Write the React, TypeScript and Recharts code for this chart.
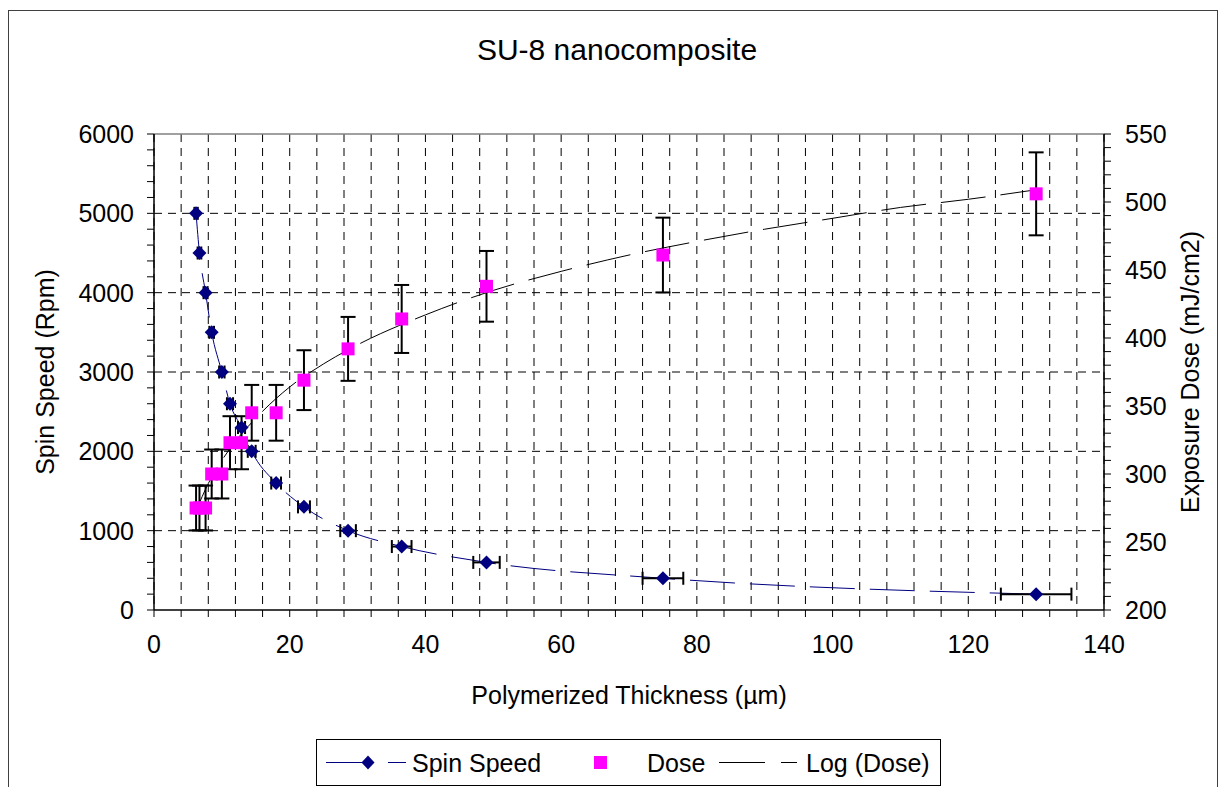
import React from 'react';
import {
  ComposedChart,
  Scatter,
  Line,
  XAxis,
  YAxis,
  CartesianGrid,
  ReferenceLine,
  ErrorBar,
  Legend,
} from 'recharts';

// ---- data ----
const thickness = [6.2, 6.7, 7.6, 8.5, 10, 11.2, 12.9, 14.4, 18, 22.1, 28.6, 36.5, 49, 75, 130];
const spinSpeed = [5000, 4500, 4000, 3500, 3000, 2600, 2300, 2000, 1600, 1300, 1000, 800, 600, 400, 200];
const thicknessErr = [0.25, 0.27, 0.3, 0.34, 0.4, 0.45, 0.52, 0.58, 0.72, 0.88, 1.15, 1.45, 1.95, 3.0, 5.2];
const dose = [275, 275, 275, 300, 300, 323, 323, 345, 345, 369, 392, 414, 438, 461, 506];
const doseErr = [16.5, 16.5, 16.5, 18, 18, 19.5, 19.5, 20.5, 20.5, 22, 23.5, 25, 26, 27.5, 30.5];

const logTrendX = [6.2, 8, 10, 12, 15, 20, 25, 30, 40, 50, 60, 70, 80, 90, 100, 110, 120, 130];
const logTrendY = [273, 293, 310, 324, 341, 364, 381, 395, 417, 435, 449, 461, 471, 480, 488, 496, 502, 509];

const xTicks = [0, 4, 8, 12, 16, 20, 24, 28, 32, 36, 40, 44, 48, 52, 56, 60, 64, 68, 72, 76, 80, 84, 88, 92, 96, 100, 104, 108, 112, 116, 120, 124, 128, 132, 136, 140];
const xLabelTicks = [0, 20, 40, 60, 80, 100, 120, 140];
const leftTicks = [0, 200, 400, 600, 800, 1000, 1200, 1400, 1600, 1800, 2000, 2200, 2400, 2600, 2800, 3000, 3200, 3400, 3600, 3800, 4000, 4200, 4400, 4600, 4800, 5000, 5200, 5400, 5600, 5800, 6000];
const leftLabelTicks = [0, 1000, 2000, 3000, 4000, 5000, 6000];
const rightTicks = [200, 210, 220, 230, 240, 250, 260, 270, 280, 290, 300, 310, 320, 330, 340, 350, 360, 370, 380, 390, 400, 410, 420, 430, 440, 450, 460, 470, 480, 490, 500, 510, 520, 530, 540, 550];
const rightLabelTicks = [200, 250, 300, 350, 400, 450, 500, 550];
const hGrid = [1000, 2000, 3000, 4000, 5000];

const legendLabels = ['Spin Speed', 'Dose', 'Log (Dose)'];

const spinData = thickness.map((x, i) => ({ x, spin: spinSpeed[i], xErr: thicknessErr[i] }));
const doseData = thickness.map((x, i) => ({ x, dose: dose[i], dErr: doseErr[i] }));
const trendData = logTrendX.map((x, i) => ({ x, trend: logTrendY[i] }));

const NAVY = '#000080';
const PINK = '#FF00FF';
const FONT = '"Liberation Sans", Arial, Helvetica, sans-serif';

const Diamond = (props: any) => {
  const { cx, cy } = props;
  if (cx == null || cy == null) return null;
  return (
    <polygon
      points={`${cx},${cy - 7} ${cx + 7},${cy} ${cx},${cy + 7} ${cx - 7},${cy}`}
      fill={NAVY}
    />
  );
};

const Square = (props: any) => {
  const { cx, cy } = props;
  if (cx == null || cy == null) return null;
  return <rect x={cx - 6.5} y={cy - 6.5} width={13} height={13} fill={PINK} />;
};

const LegendContent = () => (
  <svg width={626} height={48} style={{ display: 'block' }}>
    <rect x={0.5} y={0.5} width={624} height={46} fill="#fff" stroke="#000" strokeWidth={1} />
    <line x1={10} y1={23.5} x2={48} y2={23.5} stroke={NAVY} strokeWidth={1} />
    <polygon points="52,16.5 58.5,23.5 52,30.5 45.5,23.5" fill={NAVY} />
    <line x1={72} y1={23.5} x2={90} y2={23.5} stroke={NAVY} strokeWidth={1} />
    <text x={96} y={32.5} fontSize={25} fontFamily={FONT} fill="#000">{legendLabels[0]}</text>
    <rect x={278} y={17} width={13} height={13} fill={PINK} />
    <text x={331} y={32.5} fontSize={25} fontFamily={FONT} fill="#000">{legendLabels[1]}</text>
    <line x1={403} y1={23.5} x2={449} y2={23.5} stroke="#000" strokeWidth={1} />
    <line x1={465} y1={23.5} x2={481} y2={23.5} stroke="#000" strokeWidth={1} />
    <text x={490} y={32.5} fontSize={25} fontFamily={FONT} fill="#000">{legendLabels[2]}</text>
  </svg>
);

const tickStyle = { fontSize: 25, fill: '#000', fontFamily: FONT };

export default function App() {
  return (
    <div
      style={{
        position: 'fixed',
        left: 0,
        top: 0,
        width: 1229,
        height: 787,
        overflow: 'hidden',
        background: '#fff',
        fontFamily: FONT,
      }}
    >
      <div
        style={{
          position: 'absolute',
          left: 8,
          top: 10,
          width: 1210,
          height: 800,
          border: '1px solid #404040',
          boxSizing: 'border-box',
        }}
      />
      <div
        style={{
          position: 'absolute',
          left: 0,
          top: 32,
          width: 1234,
          textAlign: 'center',
          fontSize: 30,
          lineHeight: '36px',
          color: '#000',
        }}
      >
        SU-8 nanocomposite
      </div>
      <div style={{ position: 'absolute', left: 0, top: 0 }}>
        <ComposedChart
          width={1229}
          height={787}
          margin={{ top: 134, right: 5, bottom: 77, left: 8 }}
        >
          <CartesianGrid
            horizontal={false}
            vertical={true}
            stroke="#000"
            strokeDasharray="8 6"
            xAxisId="x"
            yAxisId="left"
          />
          <XAxis
            xAxisId="x"
            dataKey="x"
            type="number"
            domain={[0, 140]}
            ticks={xTicks}
            interval={0}
            tickFormatter={(v: number) => (xLabelTicks.includes(v) ? String(v) : '')}
            tick={tickStyle}
            tickSize={7}
            tickMargin={18}
            axisLine={{ stroke: '#000', strokeWidth: 1.5 }}
            tickLine={{ stroke: '#000', strokeWidth: 1 }}
            height={100}
            allowDataOverflow
            label={{
              value: 'Polymerized Thickness (µm)',
              position: 'insideBottom',
              offset: 6,
              style: { fontSize: 25, fill: '#000', fontFamily: FONT },
            }}
          />
          <YAxis
            yAxisId="left"
            orientation="left"
            type="number"
            domain={[0, 6000]}
            ticks={leftTicks}
            interval={0}
            tickFormatter={(v: number) => (leftLabelTicks.includes(v) ? String(v) : '')}
            tick={tickStyle}
            tickSize={7}
            tickMargin={13}
            width={146}
            axisLine={{ stroke: '#000', strokeWidth: 1.5 }}
            tickLine={{ stroke: '#000', strokeWidth: 1 }}
            allowDataOverflow
            label={{
              value: 'Spin Speed (Rpm)',
              angle: -90,
              position: 'insideLeft',
              offset: 37,
              style: { fontSize: 25, fill: '#000', fontFamily: FONT, textAnchor: 'middle' },
            }}
          />
          <YAxis
            yAxisId="right"
            orientation="right"
            type="number"
            domain={[200, 550]}
            ticks={rightTicks}
            interval={0}
            tickFormatter={(v: number) => (rightLabelTicks.includes(v) ? String(v) : '')}
            tick={tickStyle}
            tickSize={7}
            tickMargin={14}
            width={120}
            axisLine={{ stroke: '#000', strokeWidth: 1.5 }}
            tickLine={{ stroke: '#000', strokeWidth: 1 }}
            allowDataOverflow
            label={{
              value: 'Exposure Dose (mJ/cm2)',
              angle: -90,
              position: 'insideRight',
              offset: 34,
              style: { fontSize: 25, fill: '#000', fontFamily: FONT, textAnchor: 'middle' },
            }}
          />
          {hGrid.map((v) => (
            <ReferenceLine
              key={v}
              xAxisId="x"
              yAxisId="left"
              y={v}
              stroke="#000"
              strokeDasharray="8 6"
              strokeWidth={1}
            />
          ))}
          <ReferenceLine xAxisId="x" yAxisId="left" y={6000} stroke="#808080" strokeWidth={1.5} />
          <Line
            xAxisId="x"
            yAxisId="left"
            data={spinData}
            dataKey="spin"
            type="monotone"
            stroke={NAVY}
            strokeWidth={1}
            strokeDasharray="45 15"
            dot={false}
            activeDot={false}
            isAnimationActive={false}
            legendType="none"
          />
          <Line
            xAxisId="x"
            yAxisId="right"
            data={trendData}
            dataKey="trend"
            type="monotone"
            stroke="#000"
            strokeWidth={1}
            strokeDasharray="45 15"
            dot={false}
            activeDot={false}
            isAnimationActive={false}
            legendType="none"
          />
          <Scatter
            xAxisId="x"
            yAxisId="right"
            data={doseData}
            dataKey="dose"
            shape={Square}
            isAnimationActive={false}
          >
            <ErrorBar dataKey="dErr" direction="y" width={7.5} stroke="#000" strokeWidth={2} />
          </Scatter>
          <Scatter
            xAxisId="x"
            yAxisId="left"
            data={spinData}
            dataKey="spin"
            shape={Diamond}
            isAnimationActive={false}
          >
            <ErrorBar dataKey="xErr" direction="x" width={6.5} stroke="#000" strokeWidth={2} />
          </Scatter>
          <Legend
            verticalAlign="middle"
            align="center"
            content={LegendContent}
            wrapperStyle={{ left: 316, top: 739, width: 626, height: 48 }}
          />
        </ComposedChart>
      </div>
    </div>
  );
}
